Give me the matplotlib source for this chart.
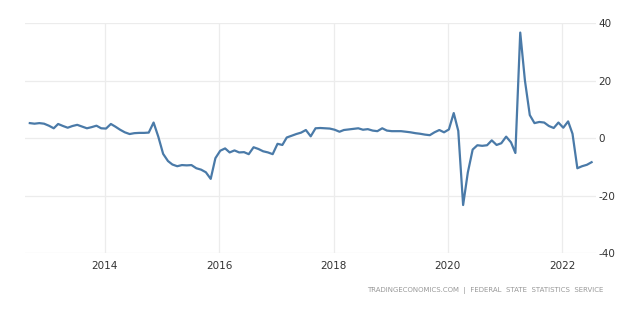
import matplotlib
matplotlib.use("Agg")
import matplotlib.pyplot as plt
import matplotlib.dates as mdates
import pandas as pd
import numpy as np

plt.rcParams["axes.unicode_minus"] = False

# monthly values, Sep 2012 - Jul 2022
start = "2012-09-01"
values = [
    5.2, 5.0, 5.2, 5.0,                                       # 2012 Sep-Dec
    4.3, 3.4, 4.9, 4.2, 3.6, 4.2, 4.6, 4.0, 3.4, 3.8, 4.3, 3.4,   # 2013
    3.3, 4.9, 4.0, 2.9, 2.0, 1.4, 1.7, 1.8, 1.8, 1.9, 5.4, 0.5,   # 2014
    -5.5, -8.0, -9.2, -9.8, -9.4, -9.5, -9.4, -10.5, -11.0, -11.9, -14.2, -7.0,  # 2015
    -4.4, -3.6, -5.0, -4.3, -5.0, -4.9, -5.6, -3.2, -3.8, -4.6, -5.0, -5.6,  # 2016
    -2.0, -2.4, 0.2, 0.8, 1.4, 1.9, 2.8, 0.6, 3.4, 3.5, 3.4, 3.3,  # 2017
    2.9, 2.2, 2.8, 3.0, 3.2, 3.4, 2.9, 3.1, 2.6, 2.4, 3.4, 2.6,   # 2018
    2.4, 2.4, 2.4, 2.2, 2.0, 1.7, 1.5, 1.2, 1.0, 2.0, 2.8, 2.0,   # 2019
    3.0, 8.7, 2.5, -23.3, -12.0, -4.0, -2.5, -2.7, -2.5, -0.8, -2.4, -1.8,  # 2020
    0.5, -1.5, -5.2, 36.7, 20.0, 8.0, 5.2, 5.6, 5.4, 4.2, 3.5, 5.4,  # 2021
    3.6, 5.8, 1.5, -10.5, -9.8, -9.3, -8.4,                    # 2022 Jan-Jul
]
dates = pd.date_range(start, periods=len(values), freq="MS") + pd.Timedelta(days=7)

y_ticks = [-40, -20, 0, 20, 40]
x_years = [2014, 2016, 2018, 2020, 2022]
source = "TRADINGECONOMICS.COM  |  FEDERAL  STATE  STATISTICS  SERVICE"

fig = plt.figure(figsize=(6.2, 3.12), dpi=100)
ax = fig.add_axes([0.04, 0.189, 0.921, 0.737])

ax.plot(dates, values, color="#4a7aa8", lw=1.6, solid_joinstyle="round")

ax.set_ylim(-40, 40)
ax.set_xlim(pd.Timestamp("2012-08-07"), pd.Timestamp("2022-08-04"))
ax.set_yticks(y_ticks)
ax.set_xticks([pd.Timestamp(f"{y}-01-01") for y in x_years])
ax.xaxis.set_major_formatter(mdates.DateFormatter("%Y"))

ax.yaxis.tick_right()
ax.grid(True, color="#ececec", lw=0.9)
ax.set_axisbelow(True)
for s in ax.spines.values():
    s.set_visible(False)
ax.tick_params(length=0, labelsize=7.5, colors="#333333")
ax.tick_params(axis="x", pad=6)
ax.tick_params(axis="y", pad=2)

fig.text(0.973, 0.07, source, ha="right", va="center", fontsize=5.0, color="#999999")

fig.savefig("out.png", dpi=100)
